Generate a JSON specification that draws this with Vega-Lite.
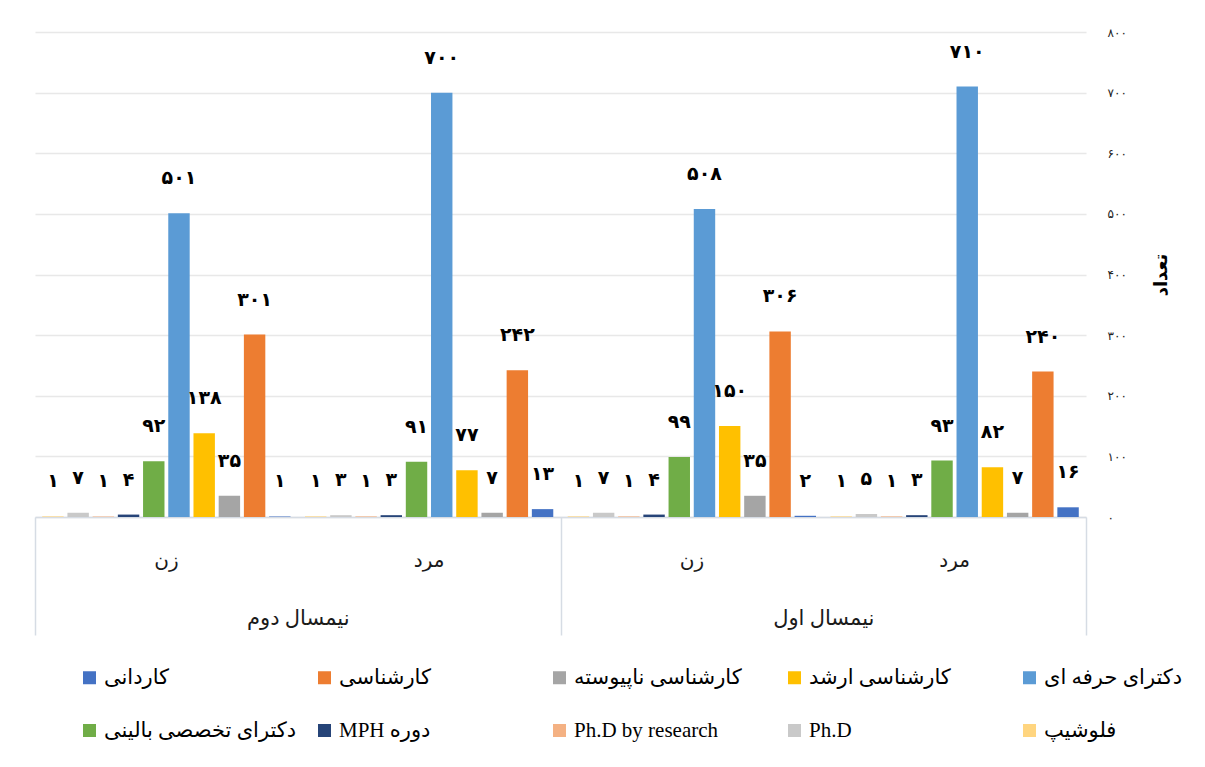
{
  "$schema": "https://vega.github.io/schema/vega-lite/v6.json",
  "width": 1051,
  "height": 485,
  "autosize": {"type": "none"},
  "padding": {"left": 35, "top": 32, "right": 119, "bottom": 250},
  "background": "white",
  "config": {
    "font": "Liberation Serif, DejaVu Sans",
    "view": {"stroke": null},
    "locale": {"number": {"decimal": ".", "thousands": ",", "grouping": [3], "currency": ["", ""], "numerals": ["۰", "۱", "۲", "۳", "۴", "۵", "۶", "۷", "۸", "۹"]}}
  },
  "layer": [
    {
      "data": {"values": [
        {"grp": "نیمسال اول|مرد", "level": "کاردانی", "n": 16},
        {"grp": "نیمسال اول|مرد", "level": "کارشناسی", "n": 240},
        {"grp": "نیمسال اول|مرد", "level": "کارشناسی ناپیوسته", "n": 7},
        {"grp": "نیمسال اول|مرد", "level": "کارشناسی ارشد", "n": 82},
        {"grp": "نیمسال اول|مرد", "level": "دکترای حرفه ای", "n": 710},
        {"grp": "نیمسال اول|مرد", "level": "دکترای تخصصی بالینی", "n": 93},
        {"grp": "نیمسال اول|مرد", "level": "دوره MPH", "n": 3},
        {"grp": "نیمسال اول|مرد", "level": "Ph.D by research", "n": 1},
        {"grp": "نیمسال اول|مرد", "level": "Ph.D", "n": 5},
        {"grp": "نیمسال اول|مرد", "level": "فلوشیپ", "n": 1},
        {"grp": "نیمسال اول|زن", "level": "کاردانی", "n": 2},
        {"grp": "نیمسال اول|زن", "level": "کارشناسی", "n": 306},
        {"grp": "نیمسال اول|زن", "level": "کارشناسی ناپیوسته", "n": 35},
        {"grp": "نیمسال اول|زن", "level": "کارشناسی ارشد", "n": 150},
        {"grp": "نیمسال اول|زن", "level": "دکترای حرفه ای", "n": 508},
        {"grp": "نیمسال اول|زن", "level": "دکترای تخصصی بالینی", "n": 99},
        {"grp": "نیمسال اول|زن", "level": "دوره MPH", "n": 4},
        {"grp": "نیمسال اول|زن", "level": "Ph.D by research", "n": 1},
        {"grp": "نیمسال اول|زن", "level": "Ph.D", "n": 7},
        {"grp": "نیمسال اول|زن", "level": "فلوشیپ", "n": 1},
        {"grp": "نیمسال دوم|مرد", "level": "کاردانی", "n": 13},
        {"grp": "نیمسال دوم|مرد", "level": "کارشناسی", "n": 242},
        {"grp": "نیمسال دوم|مرد", "level": "کارشناسی ناپیوسته", "n": 7},
        {"grp": "نیمسال دوم|مرد", "level": "کارشناسی ارشد", "n": 77},
        {"grp": "نیمسال دوم|مرد", "level": "دکترای حرفه ای", "n": 700},
        {"grp": "نیمسال دوم|مرد", "level": "دکترای تخصصی بالینی", "n": 91},
        {"grp": "نیمسال دوم|مرد", "level": "دوره MPH", "n": 3},
        {"grp": "نیمسال دوم|مرد", "level": "Ph.D by research", "n": 1},
        {"grp": "نیمسال دوم|مرد", "level": "Ph.D", "n": 3},
        {"grp": "نیمسال دوم|مرد", "level": "فلوشیپ", "n": 1},
        {"grp": "نیمسال دوم|زن", "level": "کاردانی", "n": 1},
        {"grp": "نیمسال دوم|زن", "level": "کارشناسی", "n": 301},
        {"grp": "نیمسال دوم|زن", "level": "کارشناسی ناپیوسته", "n": 35},
        {"grp": "نیمسال دوم|زن", "level": "کارشناسی ارشد", "n": 138},
        {"grp": "نیمسال دوم|زن", "level": "دکترای حرفه ای", "n": 501},
        {"grp": "نیمسال دوم|زن", "level": "دکترای تخصصی بالینی", "n": 92},
        {"grp": "نیمسال دوم|زن", "level": "دوره MPH", "n": 4},
        {"grp": "نیمسال دوم|زن", "level": "Ph.D by research", "n": 1},
        {"grp": "نیمسال دوم|زن", "level": "Ph.D", "n": 7},
        {"grp": "نیمسال دوم|زن", "level": "فلوشیپ", "n": 1}
      ]},
      "encoding": {
        "x": {
          "field": "grp", "type": "nominal",
          "scale": {"domain": ["نیمسال دوم|زن", "نیمسال دوم|مرد", "نیمسال اول|زن", "نیمسال اول|مرد"], "paddingInner": 0.055, "paddingOuter": 0.0275},
          "axis": {"orient": "bottom", "title": null, "labelExpr": "split(datum.label, '|')[1]", "labelAngle": 0, "labelFontSize": 20, "labelColor": "#1a1a1a", "labelPadding": 33, "ticks": false, "domainColor": "#D6DCE4", "domainWidth": 1.5, "grid": false}
        },
        "xOffset": {
          "field": "level", "type": "nominal",
          "scale": {"domain": ["فلوشیپ", "Ph.D", "Ph.D by research", "دوره MPH", "دکترای تخصصی بالینی", "دکترای حرفه ای", "کارشناسی ارشد", "کارشناسی ناپیوسته", "کارشناسی", "کاردانی"], "paddingInner": 0.15, "paddingOuter": 0}
        },
        "y": {
          "field": "n", "type": "quantitative",
          "scale": {"domain": [0, 800], "nice": false},
          "axis": {"orient": "right", "values": [0, 100, 200, 300, 400, 500, 600, 700, 800], "title": "تعداد", "titleAngle": 270, "titleBaseline": "top", "titleFontSize": 18, "titleFontWeight": "bold", "titleColor": "#000", "titlePadding": 26, "labelFontSize": 12, "labelColor": "#222", "labelPadding": 21, "ticks": false, "domain": false, "grid": true, "gridColor": "#E8E8E8", "gridWidth": 1.5}
        }
      },
      "layer": [
        {
          "mark": {"type": "bar"},
          "encoding": {
            "color": {
              "field": "level", "type": "nominal",
              "scale": {
                "domain": ["کاردانی", "کارشناسی", "کارشناسی ناپیوسته", "کارشناسی ارشد", "دکترای حرفه ای", "دکترای تخصصی بالینی", "دوره MPH", "Ph.D by research", "Ph.D", "فلوشیپ"],
                "range": ["#4472C4", "#ED7D31", "#A5A5A5", "#FFC000", "#5B9BD5", "#70AD47", "#264478", "#F4B183", "#C9C9C9", "#FFD57F"]
              },
              "legend": {"title": null, "orient": "none", "legendX": 44, "legendY": 635, "direction": "horizontal", "columns": 5, "gridAlign": "all", "columnPadding": 17, "rowPadding": 31, "symbolType": "square", "symbolSize": 169, "symbolStrokeWidth": 0, "labelFontSize": 21, "labelColor": "#000", "labelOffset": 4, "labelLimit": 400, "padding": 0, "labelExpr": "'\u202B' + datum.label + '\u202C'"}
            }
          }
        },
        {
          "mark": {"type": "text", "baseline": "middle", "dy": -35, "fontWeight": "bold", "fontSize": 19, "color": "#000"},
          "encoding": {"text": {"field": "n", "type": "quantitative", "format": "d"}}
        }
      ]
    },
    {
      "data": {"values": [{"semester": "نیمسال دوم"}, {"semester": "نیمسال اول"}]},
      "mark": {"type": "point", "opacity": 0},
      "encoding": {
        "x": {
          "field": "semester", "type": "nominal",
          "scale": {"type": "band", "domain": ["نیمسال دوم", "نیمسال اول"], "paddingInner": 0, "paddingOuter": 0},
          "axis": {"orient": "bottom", "title": null, "labelAngle": 0, "labelFontSize": 21, "labelColor": "#1a1a1a", "labelPadding": -28, "ticks": true, "tickSize": 118, "tickBand": "extent", "tickColor": "#D6DCE4", "tickWidth": 1.5, "domain": false, "grid": false}
        },
        "y": {"datum": 0, "type": "quantitative"}
      }
    }
  ],
  "resolve": {"scale": {"x": "independent"}, "axis": {"x": "independent"}}
}
